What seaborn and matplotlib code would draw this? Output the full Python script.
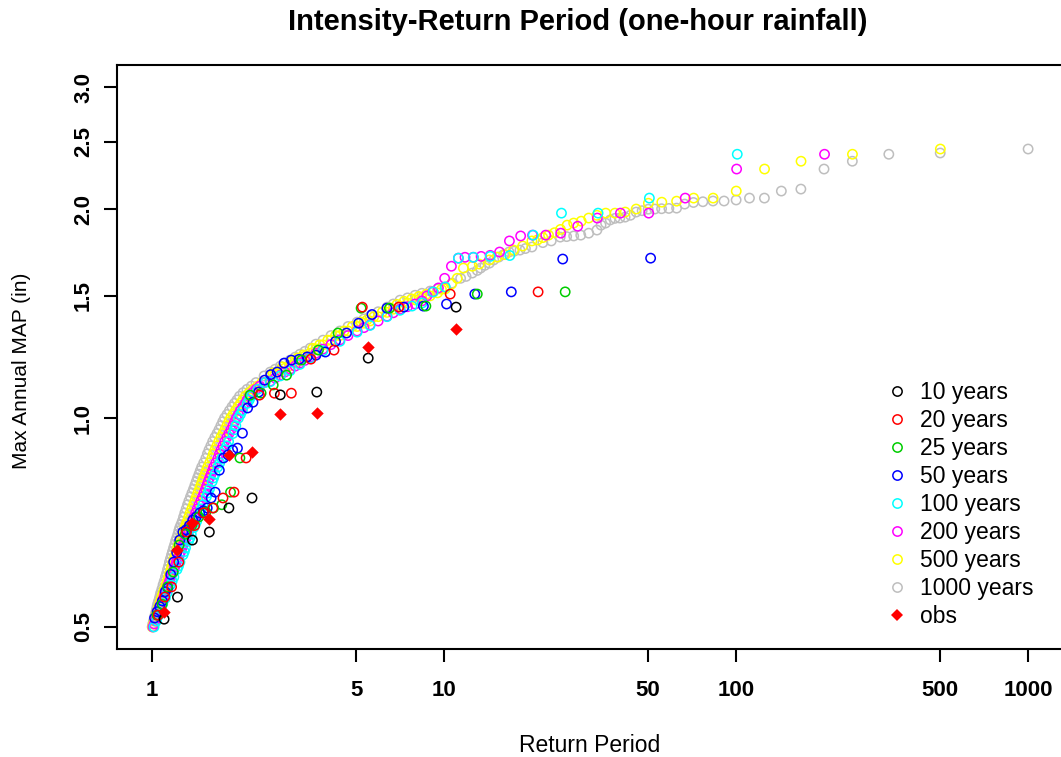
import numpy as np
import pandas as pd
import matplotlib
matplotlib.use("Agg")
import matplotlib.pyplot as plt
import seaborn as sns
from matplotlib.lines import Line2D
from matplotlib.ticker import FixedLocator, FixedFormatter, NullLocator

sns.set_theme(style="white")
plt.rcParams['font.family'] = ['Liberation Sans', 'DejaVu Sans']
plt.rcParams['text.color'] = 'black'
plt.rcParams['axes.labelcolor'] = 'black'
plt.rcParams['xtick.color'] = 'black'
plt.rcParams['ytick.color'] = 'black'

# ---------------- data ----------------
title = "Intensity-Return Period (one-hour rainfall)"
xlabel = "Return Period"
ylabel = "Max Annual MAP (in)"
x_ticks = [1, 5, 10, 50, 100, 500, 1000]
x_ticklabels = ["1", "5", "10", "50", "100", "500", "1000"]
y_ticks = [0.5, 1.0, 1.5, 2.0, 2.5, 3.0]
y_ticklabels = ["0.5", "1.0", "1.5", "2.0", "2.5", "3.0"]

# complete small series: sorted annual maxima (largest first); return period = (n+1)/rank
val_10 = [1.445, 1.22, 1.09, 1.08, 0.767, 0.742, 0.685, 0.667, 0.552, 0.513]
val_obs = [1.344, 1.266, 1.017, 1.013, 0.893, 0.884, 0.715, 0.706, 0.645, 0.525]
val_20 = [1.52, 1.509, 1.445, 1.445, 1.253, 1.216, 1.086, 1.086, 1.079, 0.876,
          0.782, 0.767, 0.742, 0.73, 0.70, 0.685, 0.62, 0.571, 0.552, 0.52]
val_25 = [1.52, 1.509, 1.45, 1.44, 1.44, 1.326, 1.253, 1.212, 1.153, 1.116,
          1.086, 1.079, 0.876, 0.782, 0.75, 0.742, 0.732, 0.72, 0.70, 0.68,
          0.656, 0.60, 0.571, 0.539, 0.52]
val_50 = [1.70, 1.695, 1.52, 1.509, 1.46, 1.45, 1.445, 1.44, 1.41, 1.37,
          1.326, 1.29, 1.245, 1.232, 1.225, 1.215, 1.212, 1.20, 1.165, 1.155,
          1.134, 1.09, 1.054, 1.034, 0.951, 0.905, 0.899, 0.885, 0.876, 0.841,
          0.782, 0.767, 0.742, 0.735, 0.73, 0.72, 0.713, 0.70, 0.69, 0.685,
          0.667, 0.64, 0.62, 0.595, 0.569, 0.562, 0.545, 0.535, 0.526, 0.515]

# long series: (return period, value) pairs read along the visible band
rp_100 = [1.016, 1.036, 1.057, 1.074, 1.088, 1.111, 1.127, 1.157, 1.188, 1.218,
          1.246, 1.277, 1.302, 1.334, 1.363, 1.389, 1.422, 1.456, 1.494, 1.535,
          1.573, 1.607, 1.643, 1.679, 1.733, 1.777, 1.829, 1.893, 1.936, 1.977,
          2.040, 2.119, 2.187, 2.306, 2.44, 2.54, 2.75, 2.97, 3.21, 3.48,
          3.85, 4.4, 5.04, 5.58, 6.38, 7.07, 7.77, 8.42, 9.18, 10.1,
          11.2, 12.6, 14.4, 16.8, 20.2, 25.25, 33.7, 50.5, 101,
          1.172, 1.232, 1.290, 1.349, 1.405, 1.475, 1.554, 1.625, 1.706, 1.803,
          1.915, 2.008, 2.153]
val_100 = [0.50, 0.51, 0.52, 0.53, 0.54, 0.55, 0.56, 0.575, 0.59, 0.605,
           0.62, 0.635, 0.65, 0.665, 0.68, 0.695, 0.71, 0.73, 0.75, 0.77,
           0.79, 0.81, 0.83, 0.85, 0.875, 0.90, 0.925, 0.95, 0.975, 1.0,
           1.025, 1.05, 1.075, 1.10, 1.125, 1.128, 1.15, 1.17, 1.195, 1.22,
           1.25, 1.29, 1.33, 1.36, 1.40, 1.43, 1.45, 1.465, 1.52, 1.545,
           1.70, 1.705, 1.71, 1.715, 1.835, 1.974, 1.974, 2.075, 2.40,
           0.582, 0.612, 0.642, 0.672, 0.702, 0.74, 0.78, 0.82, 0.862, 0.912,
           0.962, 1.012, 1.062]

rp_200 = [1.008, 1.028, 1.044, 1.061, 1.075, 1.094, 1.110, 1.134, 1.160, 1.189,
          1.212, 1.242, 1.267, 1.294, 1.326, 1.346, 1.378, 1.411, 1.448, 1.488,
          1.524, 1.557, 1.592, 1.626, 1.680, 1.723, 1.774, 1.834, 1.891, 1.944,
          2.007, 2.088, 2.153, 2.27, 2.42, 2.54, 2.64, 2.75, 2.85, 2.97,
          3.09, 3.21, 3.34, 3.48, 3.64, 3.85, 4.1, 4.4, 4.69, 5.04,
          5.32, 5.58, 5.95, 6.38, 6.7, 7.07, 7.5, 7.96, 8.4, 8.74,
          9.14, 9.57, 10.05, 10.6, 11.2, 11.8, 12.6, 13.4, 14.4, 15.5,
          16.75, 18.3, 20.1, 22.3, 25.1, 28.7, 33.5, 40.2, 50.25, 67,
          100.5, 201,
          1.018, 1.036, 1.052, 1.068, 1.084, 1.102, 1.122, 1.147, 1.174, 1.200,
          1.227, 1.254, 1.280, 1.310, 1.336, 1.362, 1.394, 1.429, 1.468, 1.506,
          1.540, 1.574, 1.609, 1.653, 1.701, 1.748, 1.804, 1.862, 1.917, 1.975,
          2.047, 2.12, 2.21, 2.34]
val_200 = [0.50, 0.51, 0.52, 0.53, 0.54, 0.55, 0.56, 0.575, 0.59, 0.605,
           0.62, 0.635, 0.65, 0.665, 0.68, 0.695, 0.71, 0.73, 0.75, 0.77,
           0.79, 0.81, 0.83, 0.85, 0.875, 0.90, 0.925, 0.95, 0.975, 1.0,
           1.025, 1.05, 1.075, 1.10, 1.125, 1.13, 1.142, 1.153, 1.165, 1.176,
           1.188, 1.20, 1.211, 1.224, 1.24, 1.257, 1.276, 1.296, 1.315, 1.335,
           1.35, 1.362, 1.38, 1.402, 1.418, 1.435, 1.447, 1.46, 1.475, 1.50,
           1.52, 1.54, 1.59, 1.655, 1.70, 1.705, 1.705, 1.71, 1.716, 1.735,
           1.80, 1.83, 1.835, 1.835, 1.847, 1.89, 1.942, 1.974, 1.974, 2.075,
           2.285, 2.40,
           0.505, 0.515, 0.525, 0.535, 0.545, 0.555, 0.567, 0.582, 0.597, 0.612,
           0.627, 0.642, 0.657, 0.672, 0.688, 0.702, 0.72, 0.74, 0.76, 0.78,
           0.80, 0.82, 0.84, 0.862, 0.888, 0.912, 0.938, 0.962, 0.988, 1.012,
           1.038, 1.062, 1.088, 1.112]

rp_500 = [1.004, 1.020, 1.032, 1.048, 1.063, 1.077, 1.092, 1.117, 1.138, 1.161,
          1.179, 1.203, 1.223, 1.248, 1.275, 1.295, 1.320, 1.351, 1.387, 1.419,
          1.454, 1.485, 1.518, 1.551, 1.602, 1.643, 1.692, 1.750, 1.804, 1.858,
          1.931, 2.007, 2.086, 2.216, 2.38, 2.54, 2.64, 2.75, 2.85, 2.97,
          3.09, 3.21, 3.34, 3.48, 3.64, 3.85, 4.1, 4.4, 4.69, 5.04,
          5.32, 5.58, 5.95, 6.38, 6.7, 7.07, 7.5, 7.96, 8.4, 8.96,
          9.5, 10.1, 10.6, 11.1, 11.65, 12.5, 13.2, 14.3, 15.2, 16.2,
          17.3, 18.6, 20.0, 20.9, 21.8, 22.8, 23.9, 25.05, 26.4, 27.8,
          29.5, 31.3, 33.4, 35.8, 38.5, 41.75, 45.5, 50.1, 55.7, 62.6,
          71.6, 83.5, 100.2, 125.25, 167, 250.5, 501,
          1.012, 1.026, 1.040, 1.055, 1.070, 1.084, 1.104, 1.127, 1.149, 1.170,
          1.191, 1.213, 1.235, 1.261, 1.285, 1.307, 1.335, 1.369, 1.403, 1.436,
          1.469, 1.501, 1.534, 1.576, 1.622, 1.667, 1.721, 1.777, 1.831, 1.894,
          1.969, 2.046, 2.15, 2.30,
          2.6, 2.8, 3.0, 3.15, 3.3, 3.55, 3.75, 4.0, 4.25, 4.55,
          4.85, 5.2, 5.45, 5.75, 6.15, 6.55, 6.9, 7.3, 7.75, 8.2,
          8.7, 9.2, 9.8]
val_500 = [0.50, 0.51, 0.52, 0.53, 0.54, 0.55, 0.56, 0.575, 0.59, 0.605,
           0.62, 0.635, 0.65, 0.665, 0.68, 0.695, 0.71, 0.73, 0.75, 0.77,
           0.79, 0.81, 0.83, 0.85, 0.875, 0.90, 0.925, 0.95, 0.975, 1.0,
           1.025, 1.05, 1.075, 1.10, 1.125, 1.15, 1.16, 1.17, 1.18, 1.19,
           1.203, 1.215, 1.228, 1.24, 1.258, 1.275, 1.295, 1.315, 1.335, 1.355,
           1.37, 1.38, 1.40, 1.42, 1.435, 1.45, 1.465, 1.48, 1.49, 1.50,
           1.515, 1.535, 1.56, 1.59, 1.645, 1.655, 1.667, 1.69, 1.706, 1.72,
           1.746, 1.77, 1.80, 1.806, 1.82, 1.835, 1.85, 1.87, 1.897, 1.91,
           1.922, 1.942, 1.96, 1.974, 1.974, 1.981, 2.001, 2.04, 2.047, 2.054,
           2.075, 2.075, 2.124, 2.285, 2.345, 2.40, 2.442,
           0.505, 0.515, 0.525, 0.535, 0.545, 0.555, 0.567, 0.582, 0.597, 0.612,
           0.627, 0.642, 0.657, 0.672, 0.688, 0.702, 0.72, 0.74, 0.76, 0.78,
           0.80, 0.82, 0.84, 0.862, 0.888, 0.912, 0.938, 0.962, 0.988, 1.012,
           1.038, 1.062, 1.088, 1.112,
           1.162, 1.185, 1.205, 1.22, 1.233, 1.26, 1.275, 1.295, 1.315, 1.335,
           1.355, 1.375, 1.385, 1.40, 1.422, 1.441, 1.458, 1.473, 1.485, 1.497,
           1.508, 1.52, 1.533]

rp_1000 = [1.001, 1.012, 1.024, 1.036, 1.046, 1.060, 1.071, 1.091, 1.111, 1.130,
           1.147, 1.166, 1.185, 1.204, 1.226, 1.244, 1.269, 1.295, 1.323, 1.354,
           1.387, 1.417, 1.448, 1.479, 1.528, 1.567, 1.613, 1.669, 1.721, 1.771,
           1.841, 1.915, 1.993, 2.114, 2.27, 2.42, 2.54, 2.64, 2.75, 2.85,
           2.97, 3.09, 3.21, 3.34, 3.48, 3.64, 3.85, 4.1, 4.4, 4.69,
           5.04, 5.32, 5.58, 5.95, 6.38, 6.7, 7.07, 7.5, 7.96, 8.4,
           8.96, 9.5, 10.08, 10.65, 11.4, 11.9, 12.5, 13.0, 13.35, 13.8,
           14.3, 14.8, 15.4, 16.0, 16.7, 17.4, 18.2, 19.0, 20.0, 21.8,
           23.3, 25.0, 26.3, 27.8, 29.4, 31.3, 33.4, 34.5, 35.75, 37.1,
           38.5, 40.0, 41.7, 43.5, 45.5, 47.7, 50.05, 52.7, 55.6, 58.9,
           62.6, 66.7, 71.5, 77.0, 83.4, 91.0, 100.1, 111.2, 125.1, 143.0,
           166.8, 200.2, 250.3, 333.7, 500.5, 1001,
           1.006, 1.018, 1.030, 1.041, 1.053, 1.066, 1.081, 1.101, 1.121, 1.139,
           1.156, 1.175, 1.195, 1.215, 1.235, 1.256, 1.282, 1.309, 1.338, 1.370,
           1.402, 1.432, 1.463, 1.503, 1.547, 1.590, 1.641, 1.695, 1.746, 1.806,
           1.878, 1.954, 2.05, 2.19]
val_1000 = [0.50, 0.51, 0.52, 0.53, 0.54, 0.55, 0.56, 0.575, 0.59, 0.605,
            0.62, 0.635, 0.65, 0.665, 0.68, 0.695, 0.71, 0.73, 0.75, 0.77,
            0.79, 0.81, 0.83, 0.85, 0.875, 0.90, 0.925, 0.95, 0.975, 1.0,
            1.025, 1.05, 1.075, 1.10, 1.125, 1.15, 1.165, 1.176, 1.188, 1.20,
            1.212, 1.224, 1.236, 1.248, 1.261, 1.278, 1.295, 1.315, 1.335, 1.355,
            1.375, 1.39, 1.403, 1.423, 1.445, 1.46, 1.479, 1.49, 1.503, 1.513,
            1.524, 1.535, 1.545, 1.565, 1.59, 1.60, 1.618, 1.632, 1.645, 1.66,
            1.672, 1.69, 1.706, 1.72, 1.735, 1.74, 1.746, 1.755, 1.764, 1.79,
            1.80, 1.823, 1.826, 1.83, 1.835, 1.847, 1.866, 1.897, 1.91, 1.93,
            1.94, 1.942, 1.948, 1.96, 1.981, 1.99, 2.0, 2.001, 2.003, 2.005,
            2.007, 2.034, 2.045, 2.05, 2.055, 2.055, 2.062, 2.075, 2.075, 2.124,
            2.138, 2.285, 2.345, 2.40, 2.41, 2.442,
            0.505, 0.515, 0.525, 0.535, 0.545, 0.555, 0.567, 0.582, 0.597, 0.612,
            0.627, 0.642, 0.657, 0.672, 0.688, 0.702, 0.72, 0.74, 0.76, 0.78,
            0.80, 0.82, 0.84, 0.862, 0.888, 0.912, 0.938, 0.962, 0.988, 1.012,
            1.038, 1.062, 1.088, 1.112]

labels = ["10 years", "20 years", "25 years", "50 years", "100 years",
          "200 years", "500 years", "1000 years"]
colors = ["#000000", "#FF0000", "#00CD00", "#0000FF", "#00FFFF",
          "#FF00FF", "#FFFF00", "#BEBEBE"]
obs_label = "obs"
obs_color = "#FF0000"


def weibull_rp(values):
    n = len(values)
    return [(n + 1) / r for r in range(1, n + 1)]


series = {
    "10 years": (weibull_rp(val_10), val_10),
    "20 years": (weibull_rp(val_20), val_20),
    "25 years": (weibull_rp(val_25), val_25),
    "50 years": (weibull_rp(val_50), val_50),
    "100 years": (rp_100, val_100),
    "200 years": (rp_200, val_200),
    "500 years": (rp_500, val_500),
    "1000 years": (rp_1000, val_1000),
}
color_of = dict(zip(labels, colors))

# ---------------- figure ----------------
W, H = 1061, 757
fig = plt.figure(figsize=(W / 100, H / 100), dpi=100)
fig.patch.set_facecolor("white")
ax_l, ax_r, ax_t, ax_b = 117, 1063, 65.4, 648.6
ax = fig.add_axes([ax_l / W, 1 - ax_b / H, (ax_r - ax_l) / W, (ax_b - ax_t) / H])
ax.set_facecolor("white")

# draw long series first so the short ones sit on top
for name in labels[::-1]:
    rp, val = series[name]
    df = pd.DataFrame({"rp": rp, "value": val})
    sns.scatterplot(data=df, x="rp", y="value", color=color_of[name], s=45,
                    marker="o", ax=ax, legend=False, linewidth=0)
    coll = ax.collections[-1]
    coll.set_facecolor("none")
    coll.set_edgecolor(color_of[name])
    coll.set_linewidth(1.1)

obs_df = pd.DataFrame({"rp": weibull_rp(val_obs), "value": val_obs})
sns.scatterplot(data=obs_df, x="rp", y="value", color=obs_color, s=40,
                marker="D", ax=ax, legend=False, linewidth=0)

ax.set_xscale("log")
ax.set_yscale("log")
ax.set_xlim(0.7586, 1318)
ax.set_ylim(0.4653, 3.223)
ax.xaxis.set_major_locator(FixedLocator(x_ticks))
ax.xaxis.set_major_formatter(FixedFormatter(x_ticklabels))
ax.xaxis.set_minor_locator(NullLocator())
ax.yaxis.set_major_locator(FixedLocator(y_ticks))
ax.yaxis.set_major_formatter(FixedFormatter(y_ticklabels))
ax.yaxis.set_minor_locator(NullLocator())
ax.set_xlabel("")
ax.set_ylabel("")

ax.tick_params(axis="both", which="major", direction="out", length=9.5,
               width=1.5, color="black", labelsize=16, labelcolor="black",
               bottom=True, left=True)
ax.tick_params(axis="x", pad=13)
ax.tick_params(axis="y", pad=7, labelrotation=90)
for t in ax.get_xticklabels():
    t.set_fontweight("bold")
for t in ax.get_yticklabels():
    t.set_fontweight("bold")
    t.set_va("center")

for sp in ax.spines.values():
    sp.set_visible(True)
    sp.set_color("black")
    sp.set_linewidth(1.5)

# titles and axis labels
fig.text(578 / W, 1 - 22 / H, title, ha="center", va="center",
         fontsize=21, fontweight="bold", color="black")
fig.text(590 / W, 1 - 745 / H, xlabel, ha="center", va="center",
         fontsize=16.5, color="black")
fig.text(22 / W, 1 - 371 / H, ylabel, ha="center", va="center", rotation=90,
         fontsize=15, color="black")

# legend
handles = [Line2D([], [], linestyle="none", marker="o", markersize=6.7,
                  markerfacecolor="none", markeredgecolor=c, markeredgewidth=1.1)
           for c in colors]
handles.append(Line2D([], [], linestyle="none", marker="D", markersize=6.3,
                      markerfacecolor=obs_color, markeredgewidth=0))
leg = fig.legend(handles, labels + [obs_label], loc="upper left",
                 bbox_to_anchor=(885.5 / W, 1 - 381 / H), frameon=False,
                 fontsize=16.5, handlelength=1.0, handletextpad=0.5,
                 labelspacing=0.22, borderpad=0, borderaxespad=0)
for t in leg.get_texts():
    t.set_color("black")

fig.savefig("out.png", dpi=100, facecolor="white")
